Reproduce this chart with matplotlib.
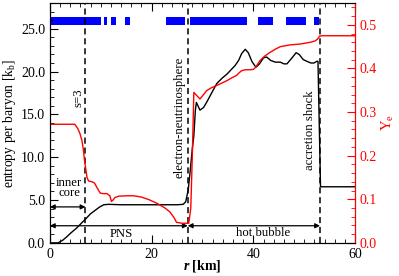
import numpy as np
import matplotlib.pyplot as plt
from matplotlib.ticker import MultipleLocator

plt.rcParams['font.family'] = ['Liberation Serif', 'DejaVu Serif']
plt.rcParams['mathtext.fontset'] = 'custom'
plt.rcParams['mathtext.rm'] = 'Liberation Serif'
plt.rcParams['mathtext.it'] = 'Liberation Serif:italic:bold'

# entropy per baryon (black)
r_s = [0, 1.6, 2.5, 3.3, 4.2, 5.2, 6.2, 7.2, 8.0, 8.9, 9.8, 10.6, 11.5, 14, 18, 22, 25,
       26.2, 26.7, 27.2, 27.6, 28.0, 28.3, 28.6, 28.8, 29.5, 30.2, 30.8, 31.8, 32.8, 33.8,
       34.8, 35.6, 36.4, 37.1, 37.7, 38.4, 39.0, 39.7, 40.5, 41.2, 42.0, 42.6, 43.4, 44.3,
       45.3, 46.0, 46.6, 47.6, 48.4, 49.0, 49.8, 50.5, 51.3, 51.9, 52.5, 52.7, 53.2, 60]
s = [0, 0, 0.3, 0.7, 1.2, 1.7, 2.3, 2.9, 3.4, 3.8, 4.2, 4.45, 4.5, 4.45, 4.45, 4.45, 4.45,
     4.5, 4.8, 6.2, 8.5, 11.0, 12.5, 15.5, 16.4, 15.5, 15.8, 16.4, 17.5, 18.6, 19.2,
     19.7, 20.2, 20.7, 21.3, 22.1, 22.6, 22.2, 21.2, 20.5, 20.9, 21.6, 21.7, 21.3, 21.1,
     21.1, 20.9, 20.9, 21.6, 22.2, 22.0, 21.4, 21.2, 21.0, 21.0, 21.2, 21.2, 6.55, 6.55]

# electron fraction (red)
r_ye = [0, 4.9, 5.5, 5.9, 6.3, 6.6, 6.8, 7.0, 7.3, 7.6, 8.3, 8.8, 9.1, 9.5, 9.9, 10.5,
        11.2, 11.8, 12.1, 12.4, 12.8, 13.5, 15, 16.5, 18, 19.5, 21, 22.5, 23.6, 24.4, 24.9,
        26.0, 27.3, 27.7, 28.0, 28.3, 28.7, 29.5, 30.2, 30.8, 31.8, 32.8, 34.8, 36.0, 36.7,
        37.2, 37.7, 38.5, 39.4, 40.0, 40.4, 41.3, 42.3, 43.3, 44.3, 45.3, 47.2, 49.2, 51.2,
        52.1, 52.6, 53.0, 53.5, 60]
ye = [0.272, 0.272, 0.262, 0.251, 0.235, 0.212, 0.19, 0.174, 0.15, 0.142, 0.140, 0.137,
      0.130, 0.122, 0.114, 0.113, 0.113, 0.108, 0.095, 0.098, 0.104, 0.107, 0.108, 0.108,
      0.105, 0.099, 0.091, 0.081, 0.071, 0.058, 0.047, 0.045, 0.045, 0.08, 0.2, 0.345,
      0.340, 0.330, 0.340, 0.349, 0.356, 0.361, 0.372, 0.380, 0.384, 0.390, 0.395, 0.397,
      0.397, 0.398, 0.402, 0.418, 0.429, 0.437, 0.444, 0.450, 0.454, 0.456, 0.460, 0.463,
      0.467, 0.474, 0.475, 0.475]

# blue strip: radial ranges (start, end)
strip = [(0.2, 10.1), (10.6, 11.3), (12.0, 12.9), (14.8, 15.8), (22.8, 26.6),
         (27.5, 38.7), (41.0, 43.9), (46.5, 50.3), (52.0, 53.0)]

r_marks = [7.0, 27.1, 53.1]

fig = plt.figure(figsize=(3.99, 2.76), dpi=100)
ax = fig.add_axes([0.125, 0.12, 0.765, 0.869])
ax2 = ax.twinx()

ax.broken_barh([(a, b - a) for a, b in strip], (25.45, 0.95), color='#0000ff', lw=0)
ax.plot(r_s, s, color='black', lw=1.0)
ax2.plot(r_ye, ye, color='#ff0000', lw=1.0)

for xm in r_marks:
    ax.axvline(xm, color='black', lw=1.1, ls=(0, (4, 2.5)))

fs = 9.2
ax.text(5.6, 17.0, 's=3', rotation=90, ha='center', va='center', fontsize=fs)
ax.text(25.4, 14.7, 'electron-neutrinosphere', rotation=90, ha='center', va='center', fontsize=fs)
ax.text(51.2, 13.2, 'accretion shock', rotation=90, ha='center', va='center', fontsize=fs)

arr = dict(arrowstyle='<|-|>', color='black', lw=0.9, mutation_scale=7,
           shrinkA=0, shrinkB=0)
ax.annotate('', xy=(0, 4.2), xytext=(7.0, 4.2), arrowprops=arr)
ax.annotate('', xy=(0, 2.0), xytext=(27.1, 2.0), arrowprops=arr)
ax.annotate('', xy=(27.1, 2.0), xytext=(53.1, 2.0), arrowprops=arr)
ax.text(3.8, 6.4, 'inner\ncore', ha='center', va='center', fontsize=fs, linespacing=0.85)
ax.text(14.0, 1.0, 'PNS', ha='center', va='center', fontsize=fs)
ax.text(41.9, 1.2, 'hot bubble', ha='center', va='center', fontsize=fs)

ax.set_xlim(0, 60)
ax.set_ylim(0, 28)
ax2.set_ylim(0, 0.55)

ax.xaxis.set_major_locator(MultipleLocator(20))
ax.xaxis.set_minor_locator(MultipleLocator(2))
ax.yaxis.set_major_locator(MultipleLocator(5))
ax.yaxis.set_minor_locator(MultipleLocator(1))
ax2.yaxis.set_major_locator(MultipleLocator(0.1))
ax2.yaxis.set_minor_locator(MultipleLocator(0.02))
ax.yaxis.set_major_formatter(lambda v, p: f'{v:.1f}')
ax2.yaxis.set_major_formatter(lambda v, p: f'{v:.1f}')

ax.tick_params(axis='x', which='both', direction='in', top=True, labelsize=10)
ax.tick_params(axis='x', which='major', length=6)
ax.tick_params(axis='x', which='minor', length=3)
ax.tick_params(axis='y', which='both', direction='in', right=False, labelsize=10)
ax.tick_params(axis='y', which='major', length=6)
ax.tick_params(axis='y', which='minor', length=3)
ax2.tick_params(axis='y', which='both', direction='in', colors='#ff0000', labelsize=10)
ax2.tick_params(axis='y', which='major', length=6)
ax2.tick_params(axis='y', which='minor', length=3)
ax2.spines['right'].set_color('#ff0000')

ax.set_xlabel('$r$ [km]', fontsize=10, fontweight='bold', va='bottom')
ax.xaxis.set_label_coords(0.5, -0.13)
ax.set_ylabel('entropy per baryon [k$_\\mathrm{b}$]', fontsize=9.8, labelpad=2)
ax2.set_ylabel('Y$_\\mathrm{e}$', fontsize=10.5, color='#ff0000', labelpad=2)

fig.savefig('out.png', dpi=100)
